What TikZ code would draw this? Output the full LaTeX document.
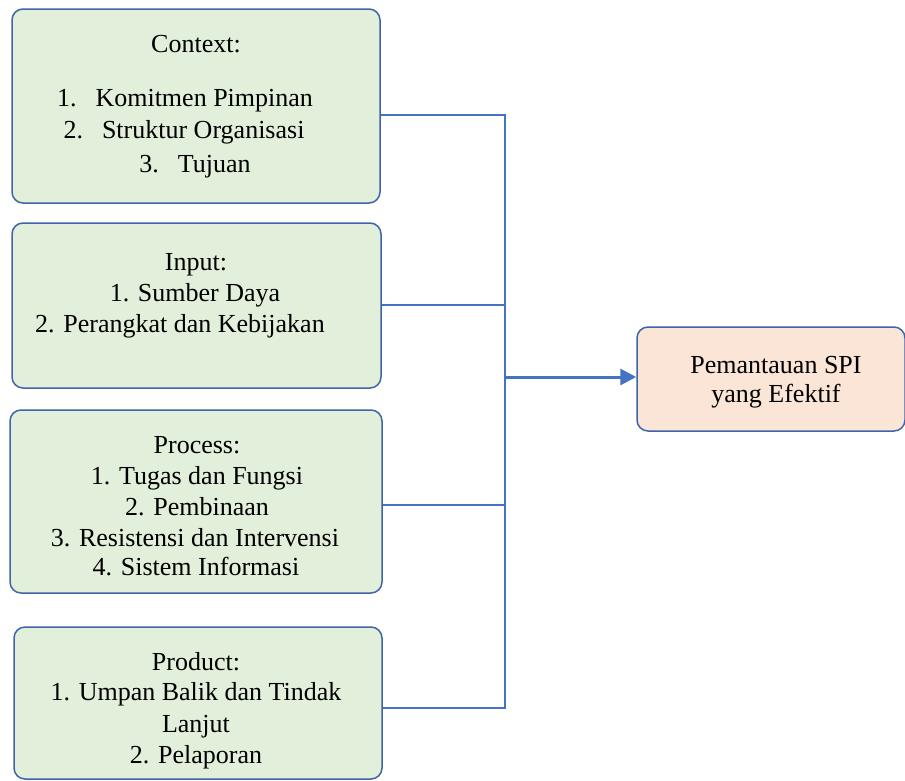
\documentclass[tikz,border=0pt]{standalone}
\usepackage{fontspec}
\setmainfont{Liberation Serif}
\usetikzlibrary{arrows.meta}
\definecolor{boxgreen}{HTML}{E2EFDA}
\definecolor{boxpeach}{HTML}{FBE5D6}
\definecolor{boxline}{HTML}{3F64A8}
\definecolor{conn}{HTML}{4472C4}
\begin{document}
\begin{tikzpicture}[x=1pt,y=-1pt,
  box/.style={draw=boxline, line width=1.5pt, rounded corners=11pt, fill=boxgreen},
  goal/.style={draw=boxline, line width=1.5pt, rounded corners=11pt, fill=boxpeach},
  txt/.style={anchor=base, inner sep=0pt, font=\fontsize{26}{31}\selectfont},
  link/.style={draw=conn, line width=1.5pt},
  arr/.style={draw=conn, line width=3pt, -{Triangle[length=16pt,width=16pt]}}]
\useasboundingbox (0,0) rectangle (905,780);
% boxes
\node[box, minimum width=368pt, minimum height=194pt, inner sep=0pt] (b1) at (196,106) {};
\node[box, minimum width=369pt, minimum height=165pt, inner sep=0pt] (b2) at (196.5,305.5) {};
\node[box, minimum width=372pt, minimum height=183pt, inner sep=0pt] (b3) at (196,501.5) {};
\node[box, minimum width=368pt, minimum height=152pt, inner sep=0pt] (b4) at (198,703) {};
\node[goal, minimum width=268pt, minimum height=104pt, inner sep=0pt] (g) at (771,379) {};
% texts box 1
\node[txt] (t11) at (196,52) {Context:};
\node[txt] (t12) at (185,106) {1.\hspace{19pt}Komitmen Pimpinan};
\node[txt] (t13) at (184,138) {2.\hspace{19pt}Struktur Organisasi};
\node[txt] (t14) at (195,172) {3.\hspace{19pt}Tujuan};
% texts box 2
\node[txt] (t21) at (196,270) {Input:};
\node[txt] (t22) at (195,301) {1. Sumber Daya};
\node[txt] (t23) at (180,332) {2. Perangkat dan Kebijakan};
% texts box 3
\node[txt] (t31) at (197,453) {Process:};
\node[txt] (t32) at (197,484) {1. Tugas dan Fungsi};
\node[txt] (t33) at (197,515) {2. Pembinaan};
\node[txt] (t34) at (195,546) {3. Resistensi dan Intervensi};
\node[txt] (t35) at (196,575) {4. Sistem Informasi};
% texts box 4
\node[txt] (t41) at (196,670) {Product:};
\node[txt] (t42) at (196,700) {1. Umpan Balik dan Tindak};
\node[txt] (t43) at (196,732) {Lanjut};
\node[txt] (t44) at (196,763) {2. Pelaporan};
% goal text
\node[txt] (tg1) at (776,373) {Pemantauan SPI};
\node[txt] (tg2) at (776,402) {yang Efektif};
% connectors
\coordinate (c1) at (505,115);
\coordinate (c2) at (505,305);
\coordinate (c3) at (505,505);
\coordinate (c4) at (505,708);
\coordinate (j) at (505,377);
\draw[link] (b1.east |- c1) -- (c1) -- (c4) -- (b4.east |- c4);
\draw[link] (b2.east |- c2) -- (c2);
\draw[link] (b3.east |- c3) -- (c3);
\draw[arr] (j) -- (g.west |- j);
\end{tikzpicture}
\end{document}
